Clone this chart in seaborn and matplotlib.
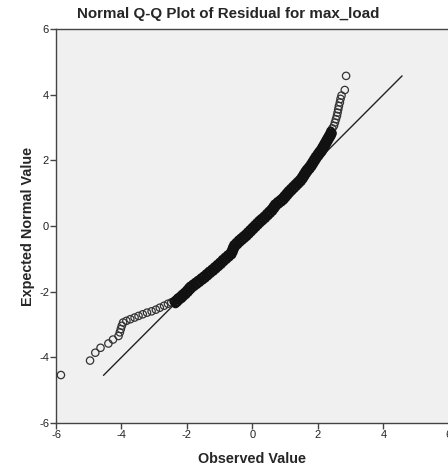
import matplotlib
matplotlib.use("Agg")
import matplotlib.pyplot as plt
import seaborn as sns
import pandas as pd

# Lower tail (observed residual, expected normal value)
low_obs = [-5.85, -4.96, -4.80, -4.64, -4.40, -4.26, -4.09, -4.05, -4.02, -3.99,
           -3.95, -3.85, -3.73, -3.60, -3.48, -3.35, -3.22, -3.08, -2.95, -2.83,
           -2.70, -2.58, -2.48]
low_exp = [-4.54, -4.10, -3.86, -3.71, -3.58, -3.46, -3.35, -3.24, -3.14, -3.04,
           -2.94, -2.89, -2.84, -2.79, -2.74, -2.69, -2.64, -2.60, -2.55, -2.49,
           -2.43, -2.37, -2.33]

# Dense central band (two rows of overlapping points)
mid_obs_a = [-2.40, -2.34, -2.28, -2.21, -2.15, -2.08, -2.01, -1.95, -1.90, -1.82,
             -1.74, -1.66, -1.57, -1.49, -1.41, -1.33, -1.24, -1.16, -1.08, -1.00,
             -0.92, -0.84, -0.76, -0.68, -0.64, -0.61, -0.57, -0.50, -0.43, -0.36,
             -0.29, -0.22, -0.15, -0.08, -0.01, 0.06, 0.13, 0.20, 0.27, 0.35,
             0.43, 0.50, 0.57, 0.63, 0.68, 0.76, 0.84, 0.91, 0.97, 1.03,
             1.09, 1.16, 1.23, 1.30, 1.37, 1.44, 1.50, 1.55, 1.60, 1.65,
             1.71, 1.77, 1.82, 1.87, 1.92, 1.98, 2.03, 2.08, 2.12, 2.16,
             2.20, 2.24, 2.28, 2.32, 2.36, 2.39]
mid_exp_a = [-2.30, -2.25, -2.19, -2.14, -2.08, -2.02, -1.95, -1.88, -1.83, -1.77,
             -1.71, -1.65, -1.58, -1.52, -1.45, -1.38, -1.31, -1.24, -1.17, -1.10,
             -1.02, -0.95, -0.88, -0.81, -0.73, -0.65, -0.57, -0.50, -0.43, -0.37,
             -0.31, -0.25, -0.18, -0.11, -0.04, 0.03, 0.10, 0.17, 0.23, 0.30,
             0.38, 0.45, 0.52, 0.60, 0.67, 0.74, 0.80, 0.86, 0.93, 1.00,
             1.07, 1.14, 1.21, 1.28, 1.35, 1.42, 1.50, 1.58, 1.66, 1.73,
             1.80, 1.88, 1.96, 2.04, 2.12, 2.20, 2.27, 2.33, 2.40, 2.47,
             2.54, 2.61, 2.68, 2.75, 2.82, 2.89]
mid_obs_b = [-2.35, -2.29, -2.23, -2.16, -2.10, -2.03, -1.96, -1.90, -1.85, -1.77,
             -1.69, -1.61, -1.52, -1.44, -1.36, -1.28, -1.19, -1.11, -1.03, -0.95,
             -0.87, -0.79, -0.71, -0.63, -0.59, -0.56, -0.52, -0.45, -0.38, -0.31,
             -0.24, -0.17, -0.10, -0.03, 0.04, 0.11, 0.18, 0.25, 0.32, 0.40,
             0.48, 0.55, 0.62, 0.68, 0.73, 0.81, 0.89, 0.96, 1.02, 1.08,
             1.14, 1.21, 1.28, 1.35, 1.42, 1.49, 1.55, 1.60, 1.65, 1.70,
             1.76, 1.82, 1.87, 1.92, 1.97, 2.03, 2.08, 2.13, 2.17, 2.21,
             2.25, 2.29, 2.33, 2.37, 2.41, 2.44]
mid_exp_b = [-2.37, -2.32, -2.26, -2.21, -2.15, -2.09, -2.02, -1.95, -1.90, -1.84,
             -1.78, -1.72, -1.65, -1.59, -1.52, -1.45, -1.38, -1.31, -1.24, -1.17,
             -1.09, -1.02, -0.95, -0.88, -0.80, -0.72, -0.64, -0.57, -0.50, -0.44,
             -0.38, -0.32, -0.25, -0.18, -0.11, -0.04, 0.03, 0.10, 0.16, 0.23,
             0.31, 0.38, 0.45, 0.53, 0.60, 0.67, 0.73, 0.79, 0.86, 0.93,
             1.00, 1.07, 1.14, 1.21, 1.28, 1.35, 1.43, 1.51, 1.59, 1.66,
             1.73, 1.81, 1.89, 1.97, 2.05, 2.13, 2.20, 2.26, 2.33, 2.40,
             2.47, 2.54, 2.61, 2.68, 2.75, 2.82]

# Upper tail
high_obs = [2.44, 2.49, 2.52, 2.55, 2.58, 2.60, 2.62, 2.64, 2.67, 2.69,
            2.72, 2.82, 2.86]
high_exp = [2.97, 3.05, 3.15, 3.25, 3.35, 3.45, 3.55, 3.65, 3.76, 3.87,
            3.97, 4.14, 4.57]

# Reference line endpoints
ref_line = [-4.55, 4.57]
ticks = [-6, -4, -2, 0, 2, 4, 6]

sns.set_style("white")
plt.rcParams['font.family'] = ['Liberation Sans', 'DejaVu Sans']
plt.rcParams['axes.unicode_minus'] = False

fig = plt.figure(figsize=(4.48, 4.68), dpi=100)
ax = fig.add_axes([0.125, 0.0962, 0.877, 0.842])
ax.set_facecolor("#f0f0f0")

tails = pd.DataFrame({"obs": low_obs + high_obs, "exp": low_exp + high_exp})
band = pd.DataFrame({
    "obs": mid_obs_a + mid_obs_b,
    "exp": mid_exp_a + mid_exp_b,
})
ldf = pd.DataFrame({"x": ref_line, "y": ref_line})

sns.lineplot(data=ldf, x="x", y="y", ax=ax, color="#222222", linewidth=1.0, zorder=2)
sns.scatterplot(data=tails, x="obs", y="exp", ax=ax, marker="o", s=28,
                facecolor="none", edgecolor="#333333", linewidth=0.9, zorder=3)
sns.scatterplot(data=band, x="obs", y="exp", ax=ax, marker="o", s=24,
                facecolor="none", edgecolor="#111111", linewidth=1.6, zorder=3)

ax.set_xlim(-6, 6)
ax.set_ylim(-6, 6)
ax.set_xticks(ticks)
ax.set_yticks(ticks)
ax.tick_params(axis="both", direction="out", length=4, width=1, color="#444444",
               labelsize=8, labelcolor="#222222", pad=1, bottom=True, left=True)
for side in ["left", "bottom", "top", "right"]:
    ax.spines[side].set_color("#444444")
    ax.spines[side].set_linewidth(1.0)

ax.set_xlabel("Observed Value", fontsize=10.4, fontweight="bold", labelpad=9)
ax.set_ylabel("Expected Normal Value", fontsize=10.4, fontweight="bold", labelpad=3)
fig.text(0.509, 0.971, "Normal Q-Q Plot of Residual for max_load", fontsize=10.9,
         fontweight="bold", ha="center", va="center")

fig.savefig("out.png", dpi=100)
